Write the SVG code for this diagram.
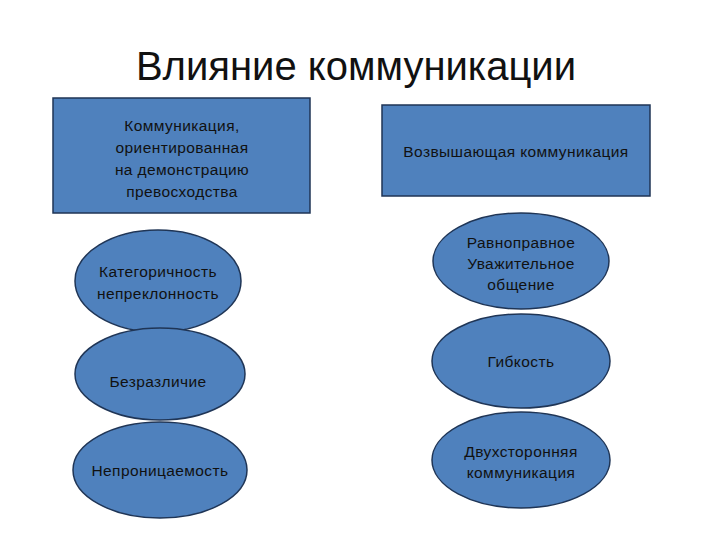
<svg xmlns="http://www.w3.org/2000/svg" width="720" height="540" viewBox="0 0 720 540">
<style>
.n{fill:#4f81bd;stroke:#1f3556;stroke-width:1.5}
.t{font-family:"Liberation Sans",Arial,sans-serif;font-size:15.5px;letter-spacing:0.4px;fill:#111;text-anchor:middle}
.title{font-family:"Liberation Sans",Arial,sans-serif;font-size:40px;fill:#111;text-anchor:middle}
</style>
<rect width="720" height="540" fill="#fff"/>
<text class="title" x="356" y="80">Влияние коммуникации</text>
<g id="connectors"></g>
<g id="n1"><rect class="n" x="53" y="98" width="257" height="115"/>
<text class="t" x="182" y="131">Коммуникация,</text><text class="t" x="182" y="153">ориентированная</text><text class="t" x="182" y="175">на демонстрацию</text><text class="t" x="182" y="197">превосходства</text></g>
<g id="n2"><rect class="n" x="382" y="105" width="268" height="91"/>
<text class="t" x="516" y="157">Возвышающая коммуникация</text></g>
<g id="n3"><ellipse class="n" cx="158" cy="281" rx="83" ry="51"/>
<text class="t" x="158" y="277">Категоричность</text><text class="t" x="158" y="299">непреклонность</text></g>
<g id="n4"><ellipse class="n" cx="160" cy="374" rx="85" ry="46"/>
<text class="t" x="158" y="387">Безразличие</text></g>
<g id="n5"><ellipse class="n" cx="160" cy="470" rx="87" ry="48"/>
<text class="t" x="160" y="476">Непроницаемость</text></g>
<g id="n6"><ellipse class="n" cx="521" cy="261" rx="88" ry="48"/>
<text class="t" x="521" y="248">Равноправное</text><text class="t" x="521" y="269">Уважительное</text><text class="t" x="521" y="290">общение</text></g>
<g id="n7"><ellipse class="n" cx="521" cy="361" rx="89" ry="47"/>
<text class="t" x="521" y="367">Гибкость</text></g>
<g id="n8"><ellipse class="n" cx="521" cy="460" rx="89" ry="48"/>
<text class="t" x="521" y="457">Двухсторонняя</text><text class="t" x="521" y="478">коммуникация</text></g>
</svg>
